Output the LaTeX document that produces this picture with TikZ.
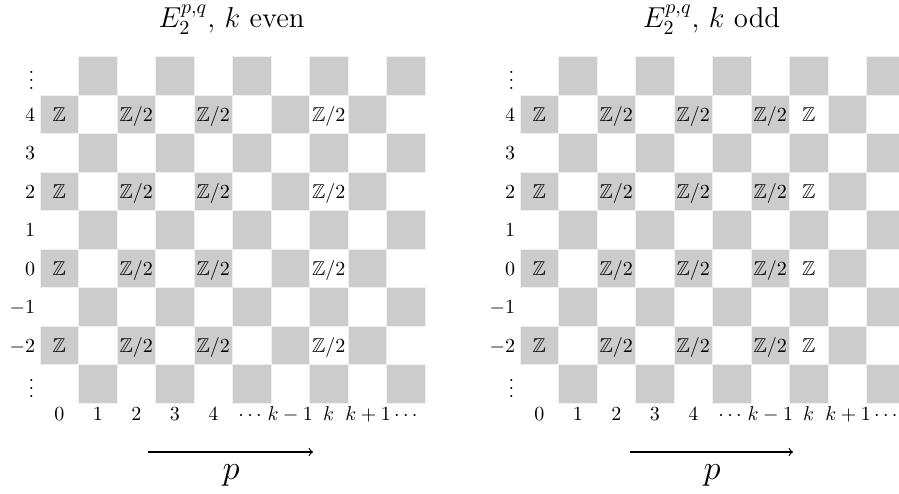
\documentclass[tikz,border=0pt]{standalone}
\usepackage{amsmath,amssymb}
\begin{document}
\begin{tikzpicture}[x=0.5pt,y=-0.5pt,
  cellg/.style={fill=gray!40,draw=gray!12,line width=0.5pt},
  rowlab/.style={inner sep=0pt,anchor=base east},
  collab/.style={inner sep=0pt,anchor=base},
  entry/.style={inner sep=0pt,anchor=base},
  ttl/.style={inner sep=0pt,anchor=base,font=\Large},
  axlab/.style={inner sep=0pt,anchor=base,font=\LARGE},
  axarrow/.style={->,line width=0.6pt}]
\useasboundingbox (0,0) rectangle (899,493);
\foreach \ox/\sd in {40/L,520/R}{
  \foreach \r in {0,...,8}{
    \foreach \c in {0,...,9}{
      \pgfmathparse{int(mod(\r+\c,2))}
      \ifnum\pgfmathresult=1
        \path[cellg] ({\ox+38.5*\c},{56.7+38.5*\r}) rectangle ++(38.5,38.5);
      \fi
    }
  }
  \foreach \r/\t in {1/4,2/3,3/2,4/1,5/0,6/-1,7/-2}{
    \node[rowlab] (\sd row\r) at ({\ox-4.5},{56.7+38.5*\r+26}) {$\t$};
  }
  \node[rowlab] (\sd rowtop) at ({\ox-5.5},89) {$\vdots$};
  \node[rowlab] (\sd rowbot) at ({\ox-5.5},{89+38.5*8}) {$\vdots$};
  \foreach \c/\t in {0/0,1/1,2/2,3/3,4/4,5/\cdots,6/k-1,7/k}{
    \node[collab] (\sd col\c) at ({\ox+38.5*\c+19.25},420) {$\t$};
  }
  \node[inner sep=0pt,anchor=base west] (\sd col8) at ({\ox+305},420) {$k+1\cdots$};
}
% entries
\foreach \r in {1,3,5,7}{
  \node[entry] (LZ\r) at ({40+19.25},{56.7+38.5*\r+26}) {$\mathbb{Z}$};
  \node[entry] (LA\r) at ({40+38.5*2+19.25},{56.7+38.5*\r+26}) {$\mathbb{Z}/2$};
  \node[entry] (LB\r) at ({40+38.5*4+19.25},{56.7+38.5*\r+26}) {$\mathbb{Z}/2$};
  \node[entry] (LC\r) at ({40+38.5*7+19.25},{56.7+38.5*\r+26}) {$\mathbb{Z}/2$};
  \node[entry] (RZ\r) at ({520+19.25},{56.7+38.5*\r+26}) {$\mathbb{Z}$};
  \node[entry] (RA\r) at ({520+38.5*2+19.25},{56.7+38.5*\r+26}) {$\mathbb{Z}/2$};
  \node[entry] (RB\r) at ({520+38.5*4+19.25},{56.7+38.5*\r+26}) {$\mathbb{Z}/2$};
  \node[entry] (RC\r) at ({520+38.5*6+19.25},{56.7+38.5*\r+26}) {$\mathbb{Z}/2$};
  \node[entry] (RD\r) at ({520+38.5*7+19.25},{56.7+38.5*\r+26}) {$\mathbb{Z}$};
}
% titles
\node[ttl] (Ltitle) at (231.5,27) {$E_2^{p,q}$, $k$ even};
\node[ttl] (Rtitle) at (711.5,27) {$E_2^{p,q}$, $k$ odd};
% arrows
\coordinate (La) at (148,452);
\coordinate (Lb) at (313,452);
\draw[axarrow] (La) -- (Lb);
\node[axlab] (Lp) at (231,479) {$p$};
\coordinate (Ra) at (630,452);
\coordinate (Rb) at (793,452);
\draw[axarrow] (Ra) -- (Rb);
\node[axlab] (Rp) at (712,479) {$p$};
\end{tikzpicture}
\end{document}
